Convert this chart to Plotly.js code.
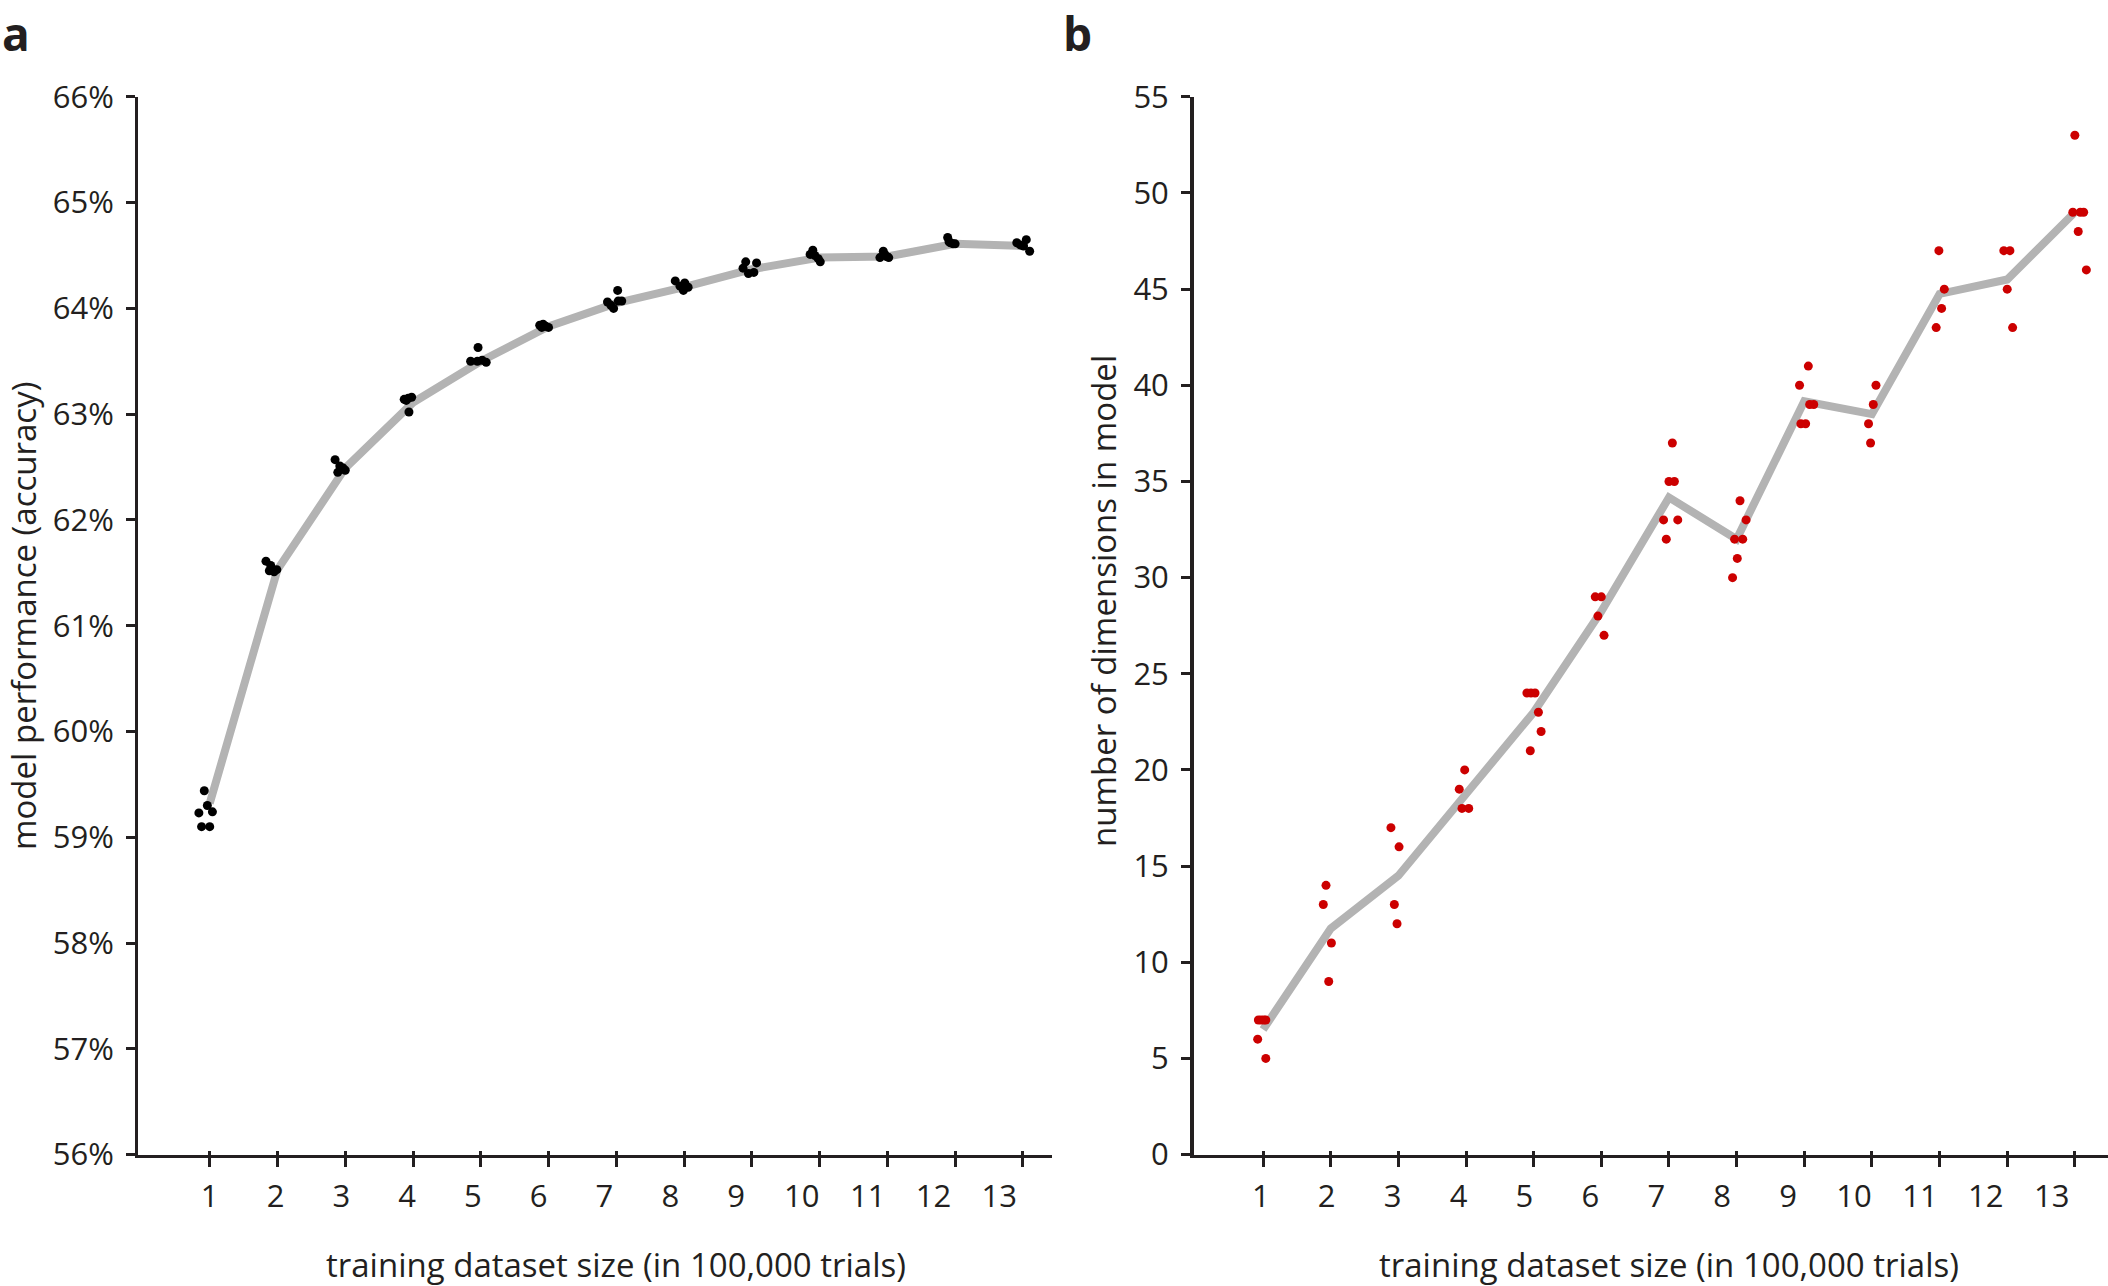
<!DOCTYPE html>
<html>
<head>
<meta charset="utf-8">
<script src="https://cdn.plot.ly/plotly-3.0.1.min.js"></script>
<style>html,body{margin:0;padding:0;background:#fff;}#chart{width:2108px;height:1286px;}</style>
</head>
<body>
<div id="chart"></div>
<script>
// ---------- data ----------
const trainingSize = [1,2,3,4,5,6,7,8,9,10,11,12,13];
const sizeLabels = ["1","2","3","4","5","6","7","8","9","10","11","12","13"];

// panel a: model performance (accuracy, %)
const accuracyMean = [59.32, 61.53, 62.49, 63.11, 63.50, 63.83, 64.05, 64.20, 64.37, 64.48, 64.49, 64.61, 64.59];
const accuracyRuns = [
  [59.44, 59.30, 59.23, 59.24, 59.10, 59.10],
  [61.61, 61.57, 61.52, 61.51, 61.53],
  [62.57, 62.51, 62.49, 62.45, 62.47],
  [63.14, 63.15, 63.16, 63.02, 63.13],
  [63.63, 63.50, 63.50, 63.49, 63.51],
  [63.84, 63.85, 63.83, 63.82, 63.82],
  [64.17, 64.06, 64.00, 64.07, 64.07, 64.03],
  [64.26, 64.21, 64.17, 64.20, 64.24],
  [64.44, 64.38, 64.43, 64.33, 64.34],
  [64.55, 64.51, 64.47, 64.44, 64.50],
  [64.54, 64.48, 64.49, 64.48, 64.51],
  [64.67, 64.62, 64.61, 64.61, 64.63],
  [64.62, 64.65, 64.59, 64.54, 64.60]
];
const accuracyJitter = [
  [-0.08, -0.035, -0.16, 0.04, -0.12, 0.0],
  [-0.17, -0.10, -0.12, -0.05, -0.01],
  [-0.15, -0.08, -0.03, -0.11, 0.0],
  [-0.13, -0.07, -0.02, -0.06, -0.10],
  [-0.04, -0.15, -0.05, 0.08, 0.02],
  [-0.13, -0.08, -0.04, 0.0, -0.10],
  [0.02, -0.13, -0.04, 0.03, 0.08, -0.08],
  [-0.13, -0.06, -0.01, 0.06, 0.01],
  [-0.09, -0.13, 0.07, -0.05, 0.03],
  [-0.10, -0.14, -0.02, 0.01, -0.07],
  [-0.06, -0.11, -0.01, 0.02, -0.04],
  [-0.11, -0.07, 0.0, -0.03, -0.09],
  [-0.09, 0.05, 0.01, 0.10, -0.04]
];
const accuracyTicks = [56,57,58,59,60,61,62,63,64,65,66];
const accuracyTickLabels = ["56%","57%","58%","59%","60%","61%","62%","63%","64%","65%","66%"];

// panel b: number of dimensions in model
const dimsMean = [6.5, 11.75, 14.5, 18.75, 23.0, 28.25, 34.17, 32.0, 39.17, 38.5, 44.75, 45.5, 49.0];
const dimsRuns = [
  [7, 7, 7, 7, 6, 5],
  [14, 13, 11, 9],
  [17, 16, 13, 12],
  [20, 19, 18, 18],
  [24, 24, 24, 23, 22, 21],
  [29, 29, 28, 27],
  [37, 35, 35, 33, 33, 32],
  [34, 33, 32, 32, 31, 30],
  [41, 40, 39, 39, 38, 38],
  [40, 39, 38, 37],
  [47, 45, 44, 43],
  [47, 47, 45, 43],
  [53, 49, 49, 49, 48, 46]
];
const dimsJitter = [
  [-0.07, -0.03, 0.01, 0.04, -0.08, 0.04],
  [-0.07, -0.11, 0.01, -0.03],
  [-0.11, 0.01, -0.06, -0.02],
  [-0.02, -0.10, -0.06, 0.04],
  [-0.10, -0.04, 0.02, 0.07, 0.11, -0.05],
  [-0.09, 0.0, -0.05, 0.04],
  [0.05, 0.0, 0.08, -0.08, 0.13, -0.04],
  [0.05, 0.14, -0.03, 0.09, 0.01, -0.06],
  [0.06, -0.07, 0.08, 0.14, -0.05, 0.02],
  [0.06, 0.02, -0.05, -0.02],
  [-0.01, 0.07, 0.03, -0.05],
  [-0.05, 0.04, 0.0, 0.08],
  [0.0, -0.03, 0.08, 0.13, 0.05, 0.17]
];
const dimsTicks = [0,5,10,15,20,25,30,35,40,45,50,55];

// ---------- build traces ----------
function flatten(groups, jit) {
  const xs = [], ys = [];
  groups.forEach((g, i) => g.forEach((v, j) => { xs.push(trainingSize[i] + jit[i][j]); ys.push(v); }));
  return {xs, ys};
}
const ptsA = flatten(accuracyRuns, accuracyJitter);
const ptsB = flatten(dimsRuns, dimsJitter);

const INK = '#231f20';
const GREY = '#b3b3b3';
const FONT = '"Open Sans", "Noto Sans", sans-serif';

const traces = [
  {x: trainingSize, y: accuracyMean, xaxis: 'x', yaxis: 'y', mode: 'lines', line: {color: GREY, width: 8}, hoverinfo: 'skip', cliponaxis: false},
  {x: ptsA.xs, y: ptsA.ys, xaxis: 'x', yaxis: 'y', mode: 'markers', marker: {color: '#000000', size: 9}, cliponaxis: false},
  {x: trainingSize, y: dimsMean, xaxis: 'x2', yaxis: 'y2', mode: 'lines', line: {color: GREY, width: 8}, hoverinfo: 'skip', cliponaxis: false},
  {x: ptsB.xs, y: ptsB.ys, xaxis: 'x2', yaxis: 'y2', mode: 'markers', marker: {color: '#cc0000', size: 9}, cliponaxis: false},
  {x: [], y: [], xaxis: 'x3', yaxis: 'y', mode: 'markers', showlegend: false},
  {x: [], y: [], xaxis: 'x4', yaxis: 'y2', mode: 'markers', showlegend: false},
  {x: [], y: [], xaxis: 'x5', yaxis: 'y', mode: 'markers', showlegend: false},
  {x: [], y: [], xaxis: 'x6', yaxis: 'y2', mode: 'markers', showlegend: false}
];

const domA = [0.0657, 0.4991];
const domB = [0.5662, 1.0];
const domY = [0.1022, 0.9247];
const rangeA = [-0.051, 13.431];
const rangeB = [-0.028, 13.49];

const tickAxisBase = {
  showline: true, linewidth: 3.5, linecolor: INK, mirror: false,
  ticks: 'outside', ticklen: 9, tickwidth: 3, tickcolor: INK,
  showgrid: false, zeroline: false, fixedrange: true
};
const innerTickBase = {
  showline: false, ticks: 'inside', ticklen: 4, tickwidth: 3, tickcolor: INK,
  showticklabels: false, showgrid: false, zeroline: false, fixedrange: true, side: 'bottom'
};
const labelAxisBase = {
  showline: false, ticks: '', showgrid: false, zeroline: false,
  tickfont: {family: FONT, size: 31, color: INK}, ticklabelstandoff: 20,
  side: 'bottom', fixedrange: true
};

const layout = {
  width: 2108, height: 1286,
  margin: {l: 0, r: 0, t: 0, b: 0, pad: 0},
  paper_bgcolor: '#ffffff', plot_bgcolor: 'rgba(0,0,0,0)',
  showlegend: false,
  font: {family: FONT, color: INK},
  xaxis: Object.assign({}, tickAxisBase, {domain: domA, anchor: 'y', range: rangeA, tickvals: trainingSize, showticklabels: false}),
  xaxis5: Object.assign({}, innerTickBase, {domain: domA, anchor: 'y', overlaying: 'x', range: rangeA, tickvals: trainingSize}),
  xaxis3: Object.assign({}, labelAxisBase, {domain: domA, anchor: 'y', overlaying: 'x', range: [-0.0824, 13.804], tickvals: trainingSize, ticktext: sizeLabels}),
  yaxis: Object.assign({}, tickAxisBase, {domain: domY, anchor: 'x', range: [56, 66], tickvals: accuracyTicks, ticktext: accuracyTickLabels, ticklabelstandoff: 6,
    tickfont: {family: FONT, size: 31, color: INK}}),
  xaxis2: Object.assign({}, tickAxisBase, {domain: domB, anchor: 'y2', range: rangeB, tickvals: trainingSize, showticklabels: false}),
  xaxis6: Object.assign({}, innerTickBase, {domain: domB, anchor: 'y2', overlaying: 'x2', range: rangeB, tickvals: trainingSize}),
  xaxis4: Object.assign({}, labelAxisBase, {domain: domB, anchor: 'y2', overlaying: 'x2', range: [-0.02, 13.854], tickvals: trainingSize, ticktext: sizeLabels}),
  yaxis2: Object.assign({}, tickAxisBase, {domain: domY, anchor: 'x2', range: [0, 55], tickvals: dimsTicks, ticklabelstandoff: 6,
    tickfont: {family: FONT, size: 31, color: INK}}),
  annotations: [
    {text: '<b>a</b>', xref: 'paper', yref: 'paper', x: 0.0, y: 1.0, xanchor: 'left', yanchor: 'top', showarrow: false,
      font: {family: FONT, size: 46, color: INK}},
    {text: '<b>b</b>', xref: 'paper', yref: 'paper', x: 0.5035, y: 1.0, xanchor: 'left', yanchor: 'top', showarrow: false,
      font: {family: FONT, size: 46, color: INK}},
    {text: 'model performance (accuracy)', xref: 'paper', yref: 'paper', x: 0.0112, y: 0.5214, xanchor: 'center', yanchor: 'middle',
      textangle: -90, showarrow: false, font: {family: FONT, size: 33, color: INK}},
    {text: 'number of dimensions in model', xref: 'paper', yref: 'paper', x: 0.5235, y: 0.5323, xanchor: 'center', yanchor: 'middle',
      textangle: -90, showarrow: false, font: {family: FONT, size: 33, color: INK}},
    {text: 'training dataset size (in 100,000 trials)', xref: 'x', yref: 'paper', x: 7, y: 0.0166, xanchor: 'center', yanchor: 'middle',
      showarrow: false, font: {family: FONT, size: 33, color: INK}},
    {text: 'training dataset size (in 100,000 trials)', xref: 'x2', yref: 'paper', x: 7, y: 0.0166, xanchor: 'center', yanchor: 'middle',
      showarrow: false, font: {family: FONT, size: 33, color: INK}}
  ]
};

Plotly.newPlot('chart', traces, layout, {displayModeBar: false, staticPlot: true});
</script>
</body>
</html>
